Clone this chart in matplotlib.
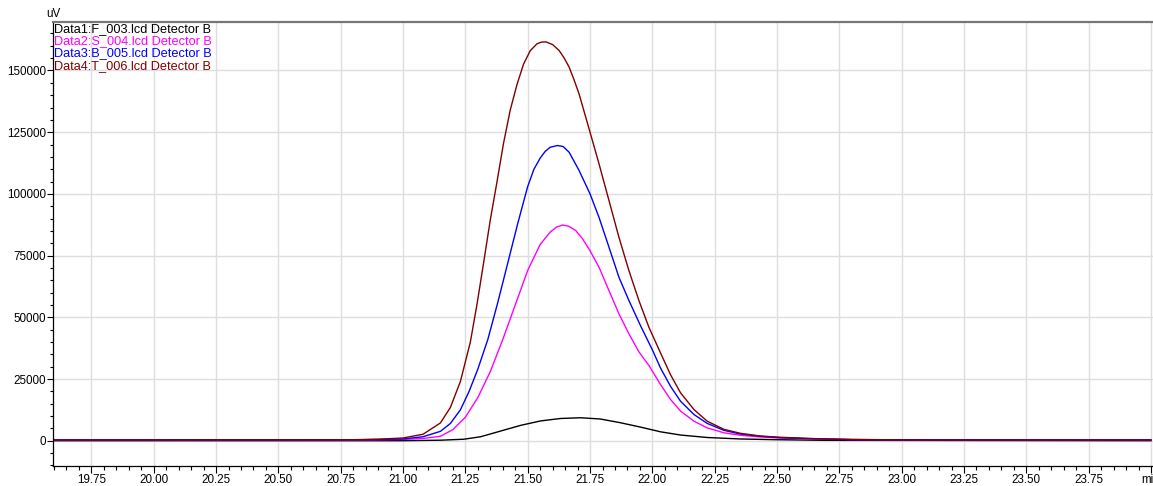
import matplotlib.pyplot as plt
from matplotlib.ticker import MultipleLocator, FixedLocator, FixedFormatter

plt.rcParams['font.family'] = ['Liberation Sans', 'DejaVu Sans']

### data (time in min, signal in uV) ###
names = ['Data1:F_003.lcd Detector B', 'Data2:S_004.lcd Detector B',
         'Data3:B_005.lcd Detector B', 'Data4:T_006.lcd Detector B']
colors = ['#000000', '#ff00ff', '#0000ff', '#800000']

t1 = [19.6, 21.0, 21.15, 21.244, 21.311, 21.391, 21.471, 21.551, 21.631, 21.711, 21.791,
      21.871, 21.953, 22.033, 22.113, 22.22, 22.353, 22.5, 22.7, 24.0]
y1 = [0, 0, 200, 600, 1600, 3900, 6200, 8000, 9000, 9300, 8800,
      7300, 5500, 3600, 2300, 1300, 700, 400, 150, 0]

t2 = [19.6, 20.8, 21.0, 21.08, 21.15, 21.2, 21.25, 21.3, 21.35, 21.4, 21.45,
      21.5, 21.55, 21.59, 21.615, 21.64, 21.665, 21.693, 21.72, 21.75, 21.786,
      21.826, 21.866, 21.906, 21.946, 21.986, 22.033, 22.073, 22.113, 22.167, 22.22,
      22.287, 22.353, 22.433, 22.513, 22.65, 22.8, 23.0, 24.0]
y2 = [300, 300, 500, 900, 1800, 4500, 9500, 17500, 28000, 41000, 55000,
      69000, 79500, 84500, 86500, 87400, 86900, 85100, 81800, 77000, 70300,
      60800, 51400, 43300, 36000, 30500, 22700, 16700, 12000, 7900, 5200,
      3200, 2200, 1500, 1100, 700, 450, 350, 300]

t3 = [19.6, 20.8, 21.0, 21.08, 21.15, 21.19, 21.23, 21.265, 21.3, 21.34, 21.38,
      21.42, 21.46, 21.5, 21.525, 21.55, 21.57, 21.59, 21.619, 21.642, 21.666, 21.706,
      21.75, 21.786, 21.826, 21.866, 21.906, 21.953, 22.0, 22.033, 22.073, 22.113,
      22.167, 22.22, 22.287, 22.353, 22.433, 22.513, 22.65, 22.8, 23.0, 24.0]
y3 = [300, 350, 700, 1600, 3800, 7000, 12500, 20000, 29000, 41000, 56000,
      72000, 88000, 103000, 110000, 114500, 117200, 118900, 119600, 119200, 116900, 109500,
      100000, 90500, 78400, 66200, 56800, 46500, 36800, 29400, 22000, 16000,
      10600, 7000, 4200, 2700, 1800, 1200, 750, 450, 350, 300]

t4 = [19.6, 20.8, 20.9, 21.0, 21.08, 21.15, 21.19, 21.23, 21.27, 21.297, 21.323,
      21.35, 21.377, 21.403, 21.43, 21.457, 21.483, 21.51, 21.537, 21.555, 21.573,
      21.6, 21.626, 21.646, 21.666, 21.686, 21.706, 21.75, 21.786, 21.826, 21.866,
      21.906, 21.946, 21.986, 22.033, 22.073, 22.113, 22.167, 22.22, 22.287, 22.353,
      22.433, 22.513, 22.65, 22.8, 23.0, 23.2, 24.0]
y4 = [300, 400, 600, 1100, 2600, 7200, 13500, 24000, 40000, 55500, 72000,
      89500, 105000, 120500, 134000, 144300, 152500, 158000, 160800, 161500, 161600,
      160500, 158100, 155100, 151400, 146200, 140500, 125000, 112200, 97300, 82400,
      68900, 56800, 46000, 35500, 26700, 19400, 12600, 7900, 4600, 3000,
      1900, 1400, 850, 500, 350, 300, 300]

series = [(t1, y1), (t2, y2), (t3, y3), (t4, y4)]

### figure ###
W, H = 1153, 486
fig = plt.figure(figsize=(W / 100, H / 100), dpi=100)
ax = fig.add_axes([53 / W, 20 / H, 1100 / W, 444 / H])

for (t, y), c in zip(series, colors):
    ax.plot(t, y, color=c, lw=1.0)

ax.set_xlim(19.596, 24.008)
ax.set_ylim(-10250, 169650)

fs = 8.4
xt = [19.75, 20.0, 20.25, 20.5, 20.75, 21.0, 21.25, 21.5, 21.75, 22.0, 22.25,
      22.5, 22.75, 23.0, 23.25, 23.5, 23.75, 24.0]
xl = ['%.2f' % v for v in xt[:-1]] + ['min']
ax.xaxis.set_major_locator(FixedLocator(xt))
ax.xaxis.set_major_formatter(FixedFormatter(xl))
ax.xaxis.set_minor_locator(MultipleLocator(0.05))
ax.yaxis.set_major_locator(MultipleLocator(25000))
ax.yaxis.set_minor_locator(MultipleLocator(5000))

ax.tick_params(axis='x', which='major', length=5, width=0.8, pad=0.5, labelsize=fs)
ax.tick_params(axis='x', which='minor', length=3, width=0.8)
ax.tick_params(axis='y', which='major', length=4, width=0.8, pad=1, labelsize=fs)
ax.tick_params(axis='y', which='minor', length=2.5, width=0.8)

ax.grid(True, which='major', color='#dedede', lw=1.0)
ax.set_axisbelow(True)

ax.spines['right'].set_visible(False)
ax.spines['top'].set_color('#777777')
ax.spines['top'].set_linewidth(1.6)
ax.spines['left'].set_linewidth(0.9)
ax.spines['bottom'].set_linewidth(0.9)

ax.text(0.0, 1.004, 'uV', transform=ax.transAxes, ha='center', va='bottom', fontsize=fs)

for i, (n, c) in enumerate(zip(names, colors)):
    ax.text(0.001, 0.998 - i * 0.0277, n, transform=ax.transAxes, color=c,
            ha='left', va='top', fontsize=9.2)

fig.savefig('out.png', dpi=100)
